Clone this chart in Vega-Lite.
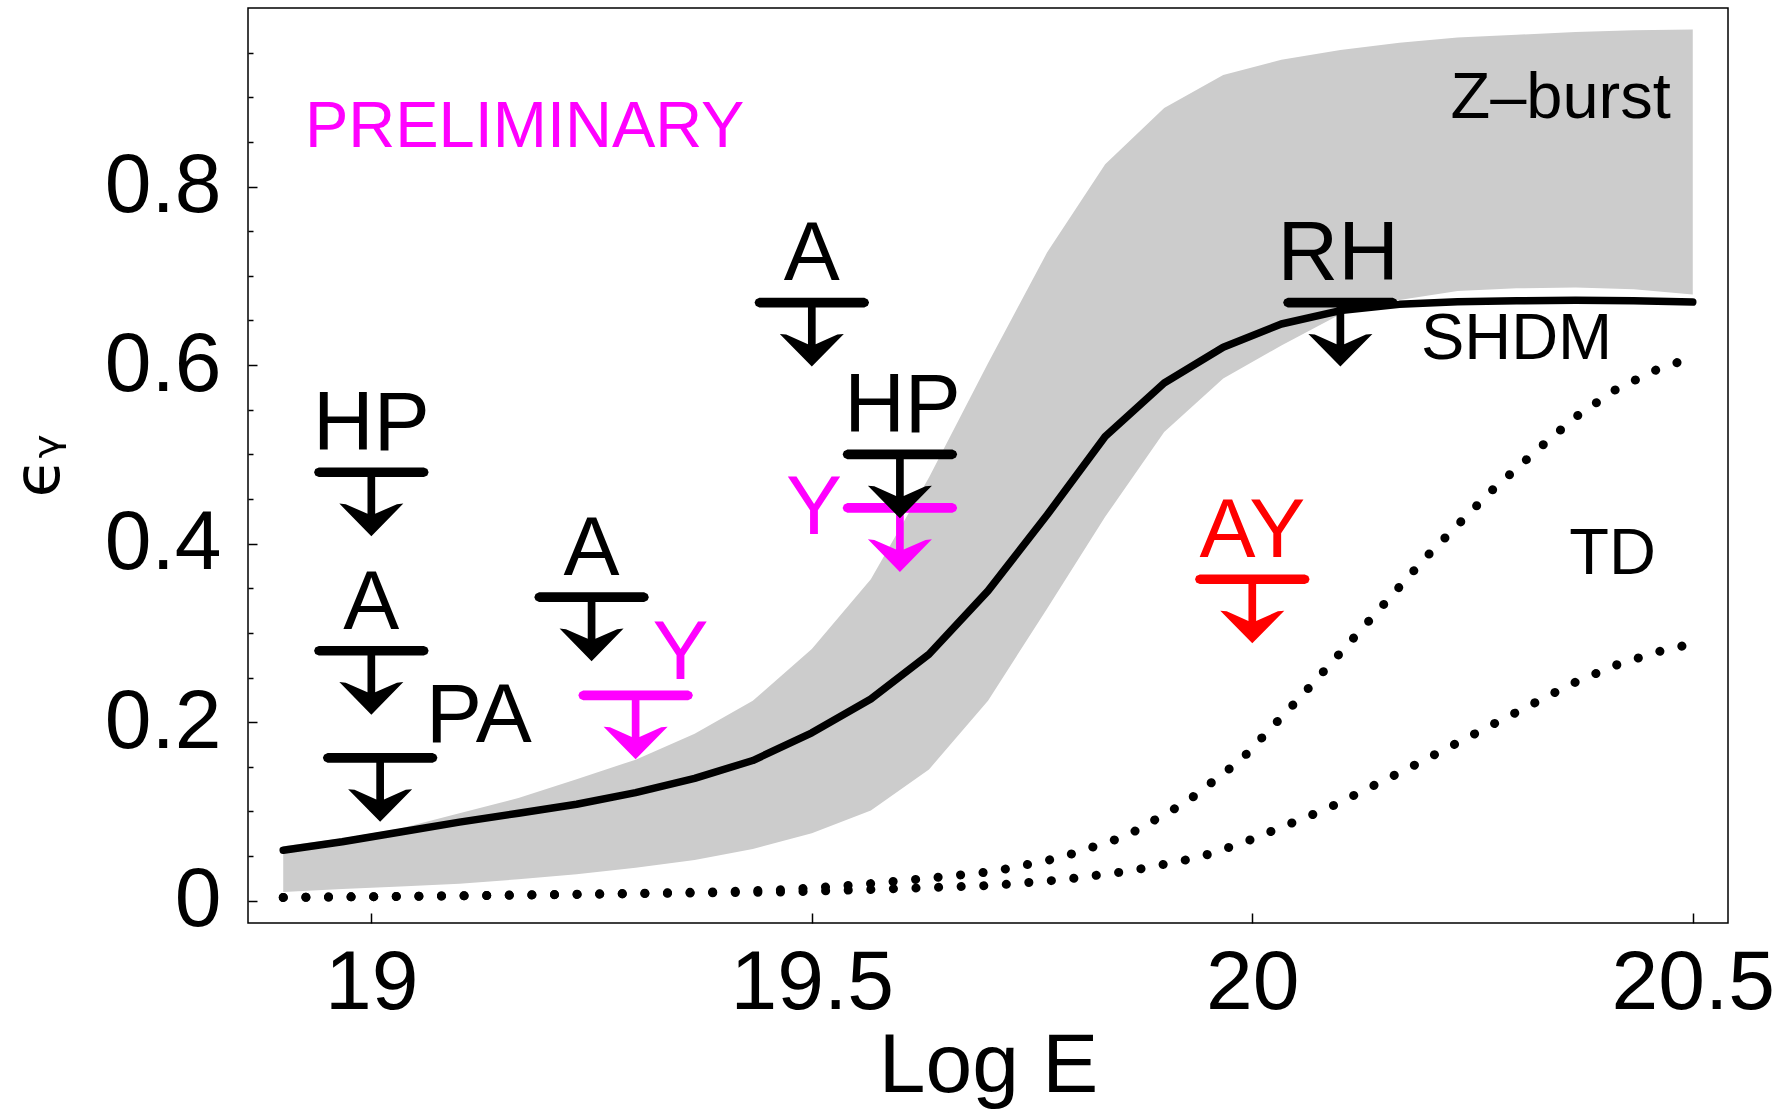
{
  "$schema": "https://vega.github.io/schema/vega-lite/v6.json",
  "width": 1480,
  "height": 915,
  "autosize": {"type": "none"},
  "padding": {"left": 248, "top": 8, "right": 64, "bottom": 186},
  "background": "white",
  "config": {
    "view": {"stroke": "black", "strokeWidth": 1.5},
    "font": "Liberation Sans"
  },
  "datasets": {
    "band": [
      {"E": 18.9, "eps": 0.0096, "hi": 0.061},
      {"E": 18.967, "eps": 0.013, "hi": 0.070},
      {"E": 19.033, "eps": 0.016, "hi": 0.081},
      {"E": 19.1, "eps": 0.019, "hi": 0.098},
      {"E": 19.167, "eps": 0.024, "hi": 0.115},
      {"E": 19.233, "eps": 0.0295, "hi": 0.136},
      {"E": 19.3, "eps": 0.037, "hi": 0.158},
      {"E": 19.367, "eps": 0.0455, "hi": 0.187},
      {"E": 19.433, "eps": 0.058, "hi": 0.224},
      {"E": 19.5, "eps": 0.0756, "hi": 0.282},
      {"E": 19.567, "eps": 0.101, "hi": 0.360},
      {"E": 19.633, "eps": 0.147, "hi": 0.474},
      {"E": 19.7, "eps": 0.224, "hi": 0.602},
      {"E": 19.767, "eps": 0.327, "hi": 0.726},
      {"E": 19.833, "eps": 0.430, "hi": 0.825},
      {"E": 19.9, "eps": 0.525, "hi": 0.888},
      {"E": 19.967, "eps": 0.585, "hi": 0.925},
      {"E": 20.033, "eps": 0.622, "hi": 0.942},
      {"E": 20.1, "eps": 0.657, "hi": 0.953},
      {"E": 20.167, "eps": 0.673, "hi": 0.961},
      {"E": 20.233, "eps": 0.683, "hi": 0.967},
      {"E": 20.3, "eps": 0.686, "hi": 0.970},
      {"E": 20.367, "eps": 0.687, "hi": 0.973},
      {"E": 20.433, "eps": 0.685, "hi": 0.975},
      {"E": 20.5, "eps": 0.679, "hi": 0.976}
    ],
    "shdm": [
      {"E": 18.9, "eps": 0.0564},
      {"E": 18.967, "eps": 0.066},
      {"E": 19.033, "eps": 0.077},
      {"E": 19.1, "eps": 0.088},
      {"E": 19.167, "eps": 0.098},
      {"E": 19.233, "eps": 0.108},
      {"E": 19.3, "eps": 0.121},
      {"E": 19.367, "eps": 0.137},
      {"E": 19.433, "eps": 0.157},
      {"E": 19.5, "eps": 0.188},
      {"E": 19.567, "eps": 0.226},
      {"E": 19.633, "eps": 0.276},
      {"E": 19.7, "eps": 0.347},
      {"E": 19.767, "eps": 0.432},
      {"E": 19.833, "eps": 0.520},
      {"E": 19.9, "eps": 0.580},
      {"E": 19.967, "eps": 0.620},
      {"E": 20.033, "eps": 0.646},
      {"E": 20.1, "eps": 0.661},
      {"E": 20.167, "eps": 0.668},
      {"E": 20.233, "eps": 0.671},
      {"E": 20.3, "eps": 0.672},
      {"E": 20.367, "eps": 0.6725},
      {"E": 20.433, "eps": 0.672},
      {"E": 20.5, "eps": 0.6706}
    ],
    "td": [
      {"curve": "TD1", "E": 18.9, "eps": 0.0036},
      {"curve": "TD1", "E": 19.0, "eps": 0.0045},
      {"curve": "TD1", "E": 19.1, "eps": 0.0055},
      {"curve": "TD1", "E": 19.2, "eps": 0.0068},
      {"curve": "TD1", "E": 19.3, "eps": 0.0082},
      {"curve": "TD1", "E": 19.4, "eps": 0.0100},
      {"curve": "TD1", "E": 19.474, "eps": 0.0125},
      {"curve": "TD1", "E": 19.55, "eps": 0.0176},
      {"curve": "TD1", "E": 19.63, "eps": 0.0249},
      {"curve": "TD1", "E": 19.707, "eps": 0.0328},
      {"curve": "TD1", "E": 19.783, "eps": 0.0484},
      {"curve": "TD1", "E": 19.857, "eps": 0.0725},
      {"curve": "TD1", "E": 19.925, "eps": 0.1104},
      {"curve": "TD1", "E": 19.987, "eps": 0.1576},
      {"curve": "TD1", "E": 20.058, "eps": 0.2316},
      {"curve": "TD1", "E": 20.128, "eps": 0.3085},
      {"curve": "TD1", "E": 20.197, "eps": 0.3846},
      {"curve": "TD1", "E": 20.27, "eps": 0.4578},
      {"curve": "TD1", "E": 20.329, "eps": 0.5097},
      {"curve": "TD1", "E": 20.368, "eps": 0.5425},
      {"curve": "TD1", "E": 20.411, "eps": 0.5716},
      {"curve": "TD1", "E": 20.457, "eps": 0.594},
      {"curve": "TD1", "E": 20.5, "eps": 0.609},
      {"curve": "TD2", "E": 18.9, "eps": 0.0036},
      {"curve": "TD2", "E": 19.0, "eps": 0.0045},
      {"curve": "TD2", "E": 19.1, "eps": 0.0054},
      {"curve": "TD2", "E": 19.2, "eps": 0.0066},
      {"curve": "TD2", "E": 19.3, "eps": 0.0078},
      {"curve": "TD2", "E": 19.4, "eps": 0.0090},
      {"curve": "TD2", "E": 19.474, "eps": 0.0098},
      {"curve": "TD2", "E": 19.603, "eps": 0.0137},
      {"curve": "TD2", "E": 19.707, "eps": 0.0172},
      {"curve": "TD2", "E": 19.786, "eps": 0.0236},
      {"curve": "TD2", "E": 19.863, "eps": 0.0336},
      {"curve": "TD2", "E": 19.939, "eps": 0.0484},
      {"curve": "TD2", "E": 19.989, "eps": 0.0647},
      {"curve": "TD2", "E": 20.085, "eps": 0.1031},
      {"curve": "TD2", "E": 20.178, "eps": 0.1487},
      {"curve": "TD2", "E": 20.271, "eps": 0.1964},
      {"curve": "TD2", "E": 20.363, "eps": 0.2431},
      {"curve": "TD2", "E": 20.411, "eps": 0.2633},
      {"curve": "TD2", "E": 20.461, "eps": 0.279},
      {"curve": "TD2", "E": 20.5, "eps": 0.288}
    ],
    "limits": [
      {"exp": "Y", "E": 19.3, "eps": 0.23, "status": "preliminary"},
      {"exp": "Y", "E": 19.6, "eps": 0.44, "status": "preliminary"},
      {"exp": "AY", "E": 20.0, "eps": 0.36, "status": "combined"},
      {"exp": "HP", "E": 19.0, "eps": 0.48, "status": "final"},
      {"exp": "A", "E": 19.0, "eps": 0.28, "status": "final"},
      {"exp": "PA", "E": 19.01, "eps": 0.16, "status": "final"},
      {"exp": "A", "E": 19.25, "eps": 0.34, "status": "final"},
      {"exp": "A", "E": 19.5, "eps": 0.67, "status": "final"},
      {"exp": "HP", "E": 19.6, "eps": 0.50, "status": "final"},
      {"exp": "RH", "E": 20.1, "eps": 0.67, "status": "final"}
    ],
    "limitLabels": [
      {"text": "HP", "E": 19.0, "eps": 0.5047, "status": "final"},
      {"text": "A", "E": 19.0, "eps": 0.3049, "status": "final"},
      {"text": "PA", "E": 19.122, "eps": 0.1776, "status": "final"},
      {"text": "A", "E": 19.25, "eps": 0.3644, "status": "final"},
      {"text": "Y", "E": 19.351, "eps": 0.2484, "status": "preliminary"},
      {"text": "A", "E": 19.5, "eps": 0.6951, "status": "final"},
      {"text": "HP", "E": 19.603, "eps": 0.5253, "status": "final"},
      {"text": "Y", "E": 19.5025, "eps": 0.4112, "status": "preliminary"},
      {"text": "RH", "E": 20.0976, "eps": 0.6956, "status": "final"},
      {"text": "AY", "E": 20.0, "eps": 0.3848, "status": "combined"}
    ],
    "curveLabels": [
      {"text": "PRELIMINARY", "E": 19.174, "eps": 0.8445, "status": "preliminary"},
      {"text": "Z–burst", "E": 20.35, "eps": 0.8767, "status": "final"},
      {"text": "SHDM", "E": 20.3, "eps": 0.6068, "status": "final"},
      {"text": "TD", "E": 20.409, "eps": 0.366, "status": "final"}
    ]
  },
  "encoding": {
    "x": {
      "field": "E", "type": "quantitative",
      "scale": {"domain": [18.86, 20.54], "nice": false, "zero": false},
      "axis": {
        "title": "Log E",
        "values": [19, 19.5, 20, 20.5],
        "format": "~g",
        "domain": false, "grid": false,
        "tickSize": -10, "tickWidth": 1.5, "tickColor": "black",
        "labelFont": "Liberation Sans", "labelFontSize": 84, "labelColor": "black",
        "labelPadding": 29, "labelOverlap": false, "labelFlush": false,
        "titleFont": "Liberation Sans", "titleFontSize": 84, "titleFontWeight": "normal", "titleColor": "black",
        "titlePadding": 0
      }
    },
    "y": {
      "field": "eps", "type": "quantitative",
      "scale": {"domain": [-0.025, 1.0], "nice": false, "zero": false},
      "axis": {
        "title": "ϵᵧ",
        "values": [0, 0.05, 0.1, 0.15, 0.2, 0.25, 0.3, 0.35, 0.4, 0.45, 0.5, 0.55, 0.6, 0.65, 0.7, 0.75, 0.8, 0.85, 0.9, 0.95],
        "labelExpr": "round(datum.value*20)%4==0 ? (datum.value==0 ? '0' : format(datum.value, '.1f')) : ''",
        "domain": false, "grid": false,
        "tickSize": {"condition": {"test": "round(datum.value*20)%4==0", "value": -9}, "value": -5},
        "tickWidth": 1.5, "tickColor": "black",
        "labelFont": "Liberation Sans", "labelFontSize": 84, "labelColor": "black",
        "labelPadding": 36, "labelOverlap": false, "labelFlush": false,
        "titleFont": "DejaVu Sans", "titleFontSize": 64, "titleFontWeight": "normal", "titleColor": "black",
        "titlePadding": 33
      }
    }
  },
  "layer": [
    {
      "data": {"name": "band"},
      "mark": {"type": "area", "color": "#cccccc", "opacity": 1},
      "encoding": {"y2": {"field": "hi"}}
    },
    {
      "data": {"name": "shdm"},
      "mark": {"type": "line", "color": "black", "strokeWidth": 7.5, "strokeJoin": "round", "strokeCap": "round"}
    },
    {
      "data": {"name": "td"},
      "mark": {"type": "line", "color": "black", "strokeWidth": 9, "strokeCap": "round", "strokeDash": [0.1, 22.5]},
      "encoding": {"detail": {"field": "curve"}}
    },
    {
      "data": {"name": "limits"},
      "mark": {
        "type": "point", "filled": true, "opacity": 1, "size": 4096, "strokeWidth": 0,
        "shape": "M-1.64,-0.15 L1.64,-0.15 L1.75,-0.1 L1.79,0 L1.75,0.1 L1.64,0.15 L0.12,0.15 L0.12,1.3 L0.8,1.0 L1.0,0.98 L0,2.0 L-1.0,0.98 L-0.8,1.0 L-0.12,1.3 L-0.12,0.15 L-1.64,0.15 L-1.75,0.1 L-1.79,0 L-1.75,-0.1 Z"
      },
      "encoding": {
        "color": {"field": "status", "type": "nominal", "scale": {"domain": ["final", "preliminary", "combined"], "range": ["#000000", "#ff00ff", "#ff0000"]}, "legend": null}
      }
    },
    {
      "data": {"name": "limitLabels"},
      "mark": {"type": "text", "fontSize": 84, "font": "Liberation Sans", "align": "center", "baseline": "alphabetic"},
      "encoding": {
        "text": {"field": "text"},
        "color": {"field": "status", "type": "nominal", "scale": {"domain": ["final", "preliminary", "combined"], "range": ["#000000", "#ff00ff", "#ff0000"]}, "legend": null}
      }
    },
    {
      "data": {"name": "curveLabels"},
      "mark": {"type": "text", "fontSize": 65, "font": "Liberation Sans", "align": "center", "baseline": "alphabetic"},
      "encoding": {
        "text": {"field": "text"},
        "color": {"field": "status", "type": "nominal", "scale": {"domain": ["final", "preliminary", "combined"], "range": ["#000000", "#ff00ff", "#ff0000"]}, "legend": null}
      }
    }
  ]
}
